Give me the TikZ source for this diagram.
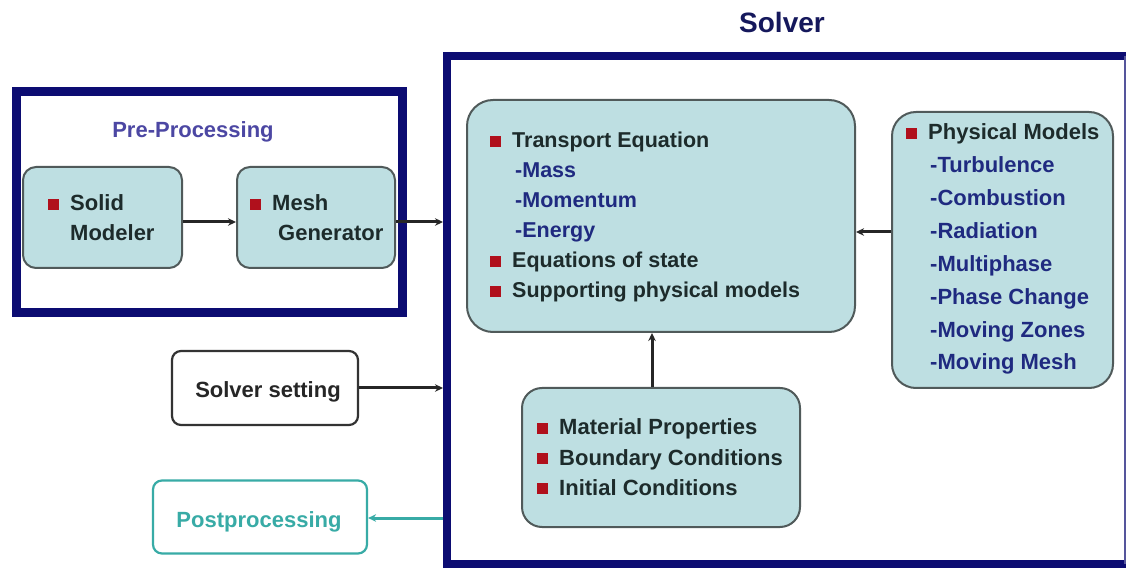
\documentclass[tikz,border=0pt]{standalone}
\usepackage{fontspec}
\setmainfont{Liberation Sans}
\usetikzlibrary{arrows.meta}
\definecolor{navy}{HTML}{0C0C72}
\definecolor{titlenavy}{HTML}{15185C}
\definecolor{boxfill}{HTML}{BEDFE2}
\definecolor{boxline}{HTML}{505A5A}
\definecolor{bulred}{HTML}{B0101C}
\definecolor{maintext}{HTML}{1D2B2B}
\definecolor{subtext}{HTML}{1F2A80}
\definecolor{pretext}{HTML}{4C47A3}
\definecolor{tealc}{HTML}{38ABA6}
\newcommand{\bul}{\textcolor{bulred}{\rule[1pt]{11pt}{11pt}}\hspace{11pt}}
\begin{document}
\begin{tikzpicture}[x=1pt,y=-1pt,
  frame/.style={draw=navy,line width=8.5pt,inner sep=0pt},
  panel/.style={draw=boxline,line width=2pt,fill=boxfill,inner sep=0pt},
  plain/.style={draw=black!80,line width=2.2pt,fill=white,rounded corners=9pt,inner sep=0pt},
  postbox/.style={draw=tealc,line width=2.2pt,fill=white,rounded corners=9pt,inner sep=0pt},
  txt/.style={anchor=base west,inner sep=0pt,font=\fontsize{22}{26}\selectfont\bfseries,text=maintext},
  ttxt/.style={txt,font=\fontsize{21.5}{26}\selectfont\bfseries},
  sub/.style={txt,text=subtext},
  tsub/.style={ttxt,text=subtext},
  arr/.style={draw=black!85,line width=3pt,-{Stealth[length=8pt,width=7.5pt]}},
  tarr/.style={draw=tealc,line width=3pt,-{Stealth[length=8pt,width=7.5pt]}}
]
\useasboundingbox (0,0) rectangle (1128,569);
\fill[white] (0,0) rectangle (1128,569);

% Solver frame and title (right side cut to a thin line at the page edge)
\node[inner sep=0pt,minimum width=678pt,minimum height=508pt] (solver) at (786,310) {};
\draw[navy,line width=8.5pt] ([xshift=1pt]solver.north east) -- (solver.north west) -- (solver.south west) -- ([xshift=1pt]solver.south east);
\draw[navy!70,line width=1.5pt] (solver.north east) -- (solver.south east);
\node[inner sep=0pt,anchor=base,font=\fontsize{28}{32}\selectfont\bfseries,text=titlenavy] (solvertitle) at (782,33) {Solver};

% Pre-processing frame
\node[frame,line width=9pt,minimum width=386pt,minimum height=221pt] (pre) at (209,202.5) {};
\node[inner sep=0pt,anchor=base,font=\fontsize{22}{26}\selectfont\bfseries,text=pretext] (pretitle) at (193,138) {Pre-Processing};

% Solid modeler / Mesh generator
\node[panel,rounded corners=13pt,minimum width=159pt,minimum height=101pt] (solid) at (102.5,217.5) {};
\node[txt] (solid1) at (48,211) {\bul Solid};
\node[txt] (solid2) at (70,241) {Modeler};
\node[panel,rounded corners=13pt,minimum width=158pt,minimum height=101pt] (mesh) at (316,217.5) {};
\node[txt] (mesh1) at (250,211) {\bul Mesh};
\node[txt] (mesh2) at (278,241) {Generator};

% Transport box
\node[panel,rounded corners=26pt,minimum width=388pt,minimum height=232pt] (transport) at (661,216) {};
\node[ttxt] (tr1) at (490,148) {\bul Transport Equation};
\node[tsub] (tr2) at (515,178) {-Mass};
\node[tsub] (tr3) at (515,208) {-Momentum};
\node[tsub] (tr4) at (515,238) {-Energy};
\node[ttxt] (tr5) at (490,268) {\bul Equations of state};
\node[ttxt] (tr6) at (490,298) {\bul Supporting physical models};

% Physical models box
\node[panel,rounded corners=24pt,minimum width=221pt,minimum height=276pt] (phys) at (1002.5,250) {};
\node[txt] (ph0) at (906,140) {\bul Physical Models};
\node[sub] (ph1) at (930,173) {-Turbulence};
\node[sub] (ph2) at (930,206) {-Combustion};
\node[sub] (ph3) at (930,239) {-Radiation};
\node[sub] (ph4) at (930,272) {-Multiphase};
\node[sub] (ph5) at (930,305) {-Phase Change};
\node[sub] (ph6) at (930,338) {-Moving Zones};
\node[sub] (ph7) at (930,370) {-Moving Mesh};

% Material box
\node[panel,rounded corners=20pt,minimum width=278pt,minimum height=139pt] (material) at (661,457.5) {};
\node[txt] (ma1) at (537,435) {\bul Material Properties};
\node[txt] (ma2) at (537,465) {\bul Boundary Conditions};
\node[txt] (ma3) at (537,495) {\bul Initial Conditions};

% Solver setting and postprocessing
\node[plain,minimum width=186pt,minimum height=74pt] (setting) at (265,388) {};
\node[inner sep=0pt,anchor=base,font=\fontsize{22}{26}\selectfont\bfseries,text=black!85] (settingtxt) at (268,398) {Solver setting};
\node[postbox,minimum width=214pt,minimum height=73pt] (post) at (260,517) {};
\node[inner sep=0pt,anchor=base,font=\fontsize{22}{26}\selectfont\bfseries,text=tealc] (posttxt) at (259,527) {Postprocessing};

% connector ends on the solver frame
\coordinate (inmesh) at (443,222);
\coordinate (inset) at (443,388);
\coordinate (outpost) at (443,518);
\coordinate (physrow) at (870,232);

% connectors
\draw[arr] ([yshift=-4.5pt]solid.east) -- ([yshift=-4.5pt]mesh.west);
\draw[arr] (mesh.east |- inmesh) -- (inmesh);
\draw[arr] (setting.east) -- (inset);
\draw[tarr] (outpost) -- (post.east |- outpost);
\draw[arr] ([xshift=-9pt]material.north) -- ([xshift=-9pt]material.north |- transport.south);
\draw[arr] (phys.west |- physrow) -- (transport.east |- physrow);
\end{tikzpicture}
\end{document}
